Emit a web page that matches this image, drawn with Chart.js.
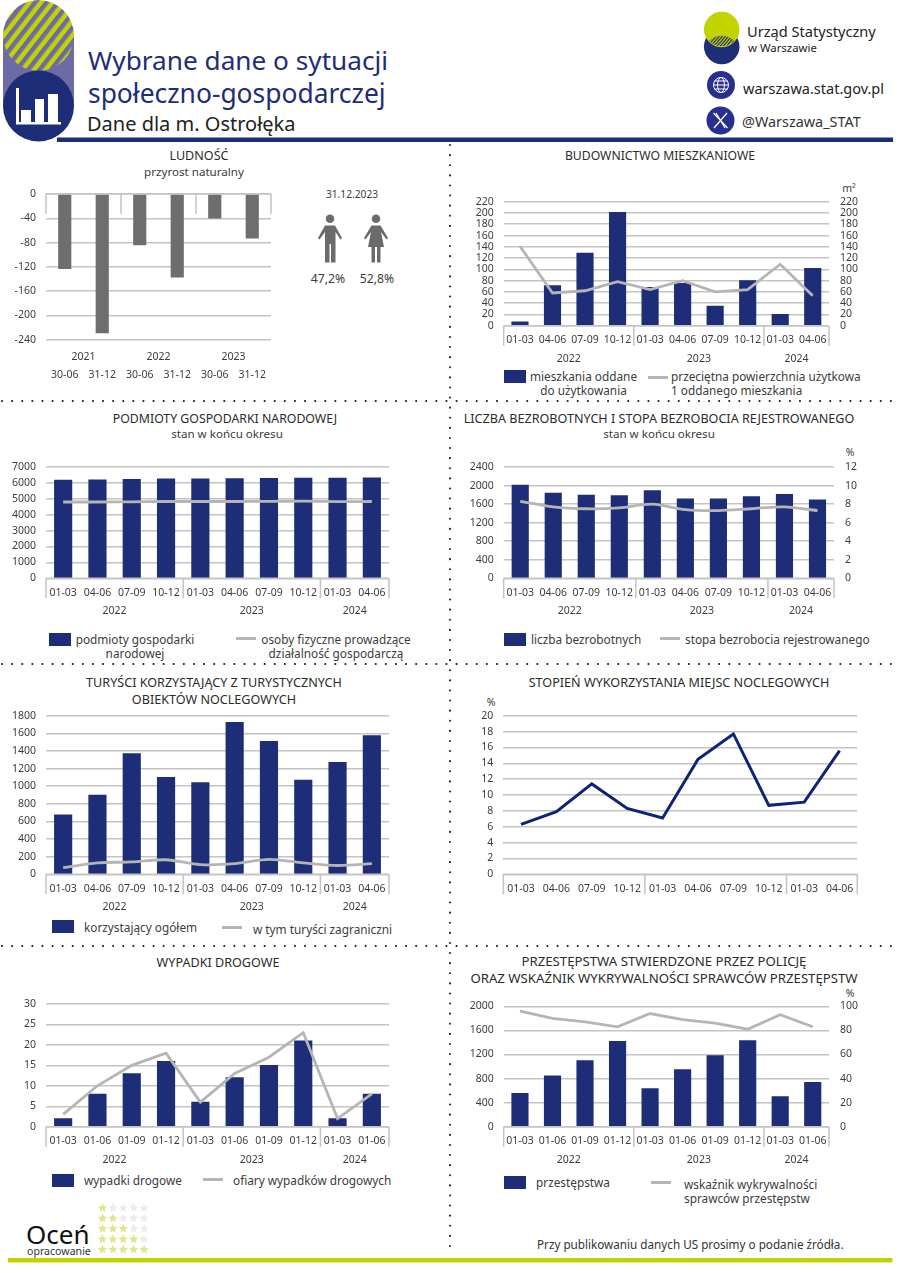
<!DOCTYPE html>
<html lang="pl">
<head>
<meta charset="utf-8">
<title>Wybrane dane o sytuacji społeczno-gospodarczej</title>
<script src="https://cdn.jsdelivr.net/npm/chart.js@4"></script>
<style>
  html, body { margin: 0; padding: 0; background: #fff; }
  body { position: relative; width: 900px; height: 1273px; overflow: hidden; font-family: "Noto Sans", sans-serif; color: #3c3c3c; }
  canvas { position: absolute; display: block; }
  svg.bg { position: absolute; left: 0; top: 0; }
  .t { position: absolute; white-space: nowrap; line-height: 1; transform: translateY(-50%); }
  .c { transform: translate(-50%, -50%); text-align: center; }
  .h { font-size: 12.6px; color: #2b2b2b; }
  .s { font-size: 11.6px; }
  .l { font-size: 11.8px; line-height: 14.4px; }
  .u { font-size: 10.5px; }
  .sw { position: absolute; width: 22px; height: 13px; background: #1e2d78; }
  .ln { position: absolute; width: 20px; height: 3px; background: #b5b5b5; }
</style>
</head>
<body>
<svg class="bg" width="900" height="1273" viewBox="0 0 900 1273">
  <defs>
    <pattern id="stripes" width="9" height="9" patternUnits="userSpaceOnUse" patternTransform="rotate(38)">
      <rect width="9" height="9" fill="#c3d300"/>
      <rect width="4.5" height="9" fill="#6d6ba6"/>
    </pattern>
    <pattern id="fine" width="2.4" height="2.4" patternUnits="userSpaceOnUse" patternTransform="rotate(40)">
      <rect width="2.4" height="2.4" fill="#c3d300"/>
      <rect width="1.2" height="2.4" fill="#1e2d78"/>
    </pattern>
  </defs>
  <!-- header capsule -->
  <rect x="3" y="35" width="71" height="72" fill="#6d6ba6"/>
  <circle cx="38.5" cy="35.5" r="35.5" fill="url(#stripes)"/>
  <circle cx="38.5" cy="106" r="35.5" fill="#1e2d78"/>
  <g fill="#fff">
    <rect x="16" y="88" width="3" height="36"/>
    <rect x="16" y="122" width="45" height="2.5"/>
    <rect x="21" y="110" width="10" height="12"/>
    <rect x="35" y="99" width="9" height="23"/>
    <rect x="48" y="94" width="10" height="28"/>
  </g>
  <rect x="57" y="137.5" width="836" height="4.5" fill="#1e2d78"/>
  <rect x="8" y="1258" width="884.5" height="4.5" fill="#c3d300"/>
  <!-- logo -->
  <circle cx="721.7" cy="46.5" r="17.8" fill="#1e2d78"/>
  <circle cx="721.7" cy="29.5" r="17.8" fill="#c3d300"/>
  <path d="M709 41 A18 18 0 0 1 734.5 41 A18 18 0 0 1 709 41 Z" fill="url(#fine)"/>
  <!-- contact icons -->
  <circle cx="721" cy="85" r="14" fill="#27308f"/>
  <g fill="none" stroke="#fff" stroke-width="1">
    <circle cx="721" cy="85" r="7.5"/>
    <ellipse cx="721" cy="85" rx="3.4" ry="7.5"/>
    <path d="M713.5 85 H728.5 M714.6 81 H727.4 M714.6 89 H727.4"/>
  </g>
  <circle cx="720.5" cy="120.5" r="14" fill="#27308f"/>
  <path d="M713.5 113 L727.5 128 M727 113 L714 128 M716 113 L725 128" fill="none" stroke="#fff" stroke-width="1.2"/>
  <!-- separators -->
  <g fill="none" stroke="#1a1a1a" stroke-width="2" stroke-linecap="round" stroke-dasharray="0.1 10">
    <path d="M450 145 V1256"/>
    <path d="M2 401 H900"/>
    <path d="M2 664 H900"/>
    <path d="M2 946 H900"/>
  </g>
  <!-- people -->
  <g fill="#6b6b6b">
    <circle cx="330" cy="218.7" r="4.3"/>
    <path d="M325 225.5 H335 L342 238 L340.5 239.5 L335.5 232 V262.5 H331 V244 H329.5 V262.5 H325 V232 L319.5 239.5 L318 238 Z"/>
    <circle cx="376" cy="218.7" r="4.3"/>
    <path d="M371.5 225.5 H380.5 L388 238 L386.5 239.5 L381 232 L384 247 H380.5 V262.5 H377 V247 H375 V262.5 H371.5 V247 H368 L371 232 L365.5 239.5 L364 238 Z"/>
  </g>
  <g id="stars"></g>
</svg>

<!-- header text -->
<div class="t" style="left:88px;top:60px;font-size:26.2px;color:#1e2d78">Wybrane dane o sytuacji</div>
<div class="t" style="left:88px;top:93px;font-size:26.4px;color:#1e2d78">społeczno-gospodarczej</div>
<div class="t" style="left:87px;top:124px;font-size:20px;color:#222">Dane dla m. Ostrołęka</div>
<div class="t" style="left:747px;top:31px;font-size:14.6px;color:#222">Urząd Statystyczny</div>
<div class="t" style="left:748px;top:48px;font-size:11.4px;color:#222">w Warszawie</div>
<div class="t" style="left:743px;top:87.5px;font-size:14.5px;color:#222">warszawa.stat.gov.pl</div>
<div class="t" style="left:742px;top:121.5px;font-size:14.4px;color:#333">@Warszawa_STAT</div>

<!-- panel titles -->
<div class="t c h" style="left:199px;top:156px">LUDNOŚĆ</div>
<div class="t c s" style="left:194px;top:172px">przyrost naturalny</div>
<div class="t c" style="left:352px;top:194px;font-size:10.2px">31.12.2023</div>
<div class="t c" style="left:328px;top:279px;font-size:12.2px">47,2%</div>
<div class="t c" style="left:377px;top:279px;font-size:12.2px">52,8%</div>

<div class="t c h" style="left:660px;top:156px;font-size:12.2px">BUDOWNICTWO MIESZKANIOWE</div>
<div class="t c h" style="left:225px;top:418.5px;font-size:12.3px">PODMIOTY GOSPODARKI NARODOWEJ</div>
<div class="t c s" style="left:227px;top:434px">stan w końcu okresu</div>
<div class="t c h" style="left:659px;top:418.5px">LICZBA BEZROBOTNYCH I STOPA BEZROBOCIA REJESTROWANEGO</div>
<div class="t c s" style="left:659px;top:434px">stan w końcu okresu</div>
<div class="t c h" style="left:214px;top:682.5px">TURYŚCI KORZYSTAJĄCY Z TURYSTYCZNYCH</div>
<div class="t c h" style="left:214px;top:699.5px">OBIEKTÓW NOCLEGOWYCH</div>
<div class="t c h" style="left:679px;top:682.5px">STOPIEŃ WYKORZYSTANIA MIEJSC NOCLEGOWYCH</div>
<div class="t c h" style="left:218px;top:963px">WYPADKI DROGOWE</div>
<div class="t c h" style="left:664px;top:962px;font-size:13.2px">PRZESTĘPSTWA STWIERDZONE PRZEZ POLICJĘ</div>
<div class="t c h" style="left:664px;top:978.5px;font-size:13.2px">ORAZ WSKAŹNIK WYKRYWALNOŚCI SPRAWCÓW PRZESTĘPSTW</div>

<!-- units -->
<div class="t c u" style="left:849px;top:188px">m²</div>
<div class="t c u" style="left:850px;top:452px">%</div>
<div class="t c u" style="left:491px;top:702px">%</div>
<div class="t c u" style="left:850px;top:993px">%</div>

<!-- legends -->
<div class="sw" style="left:504px;top:370px"></div>
<div class="t c l" style="left:583.5px;top:383px">mieszkania oddane<br>do użytkowania</div>
<div class="ln" style="left:648px;top:376px"></div>
<div class="t l" style="left:671px;top:383px">przeciętna powierzchnia użytkowa<br>1 oddanego mieszkania</div>

<div class="sw" style="left:49px;top:633px"></div>
<div class="t c l" style="left:135px;top:646px">podmioty gospodarki<br>narodowej</div>
<div class="ln" style="left:236px;top:637px"></div>
<div class="t c l" style="left:336px;top:646px">osoby fizyczne prowadzące<br>działalność gospodarczą</div>

<div class="sw" style="left:504px;top:632.5px"></div>
<div class="t l" style="left:531px;top:639px">liczba bezrobotnych</div>
<div class="ln" style="left:660px;top:637px"></div>
<div class="t l" style="left:685px;top:638.5px">stopa bezrobocia rejestrowanego</div>

<div class="sw" style="left:52px;top:920px"></div>
<div class="t l" style="left:84px;top:927px">korzystający ogółem</div>
<div class="ln" style="left:222px;top:926px"></div>
<div class="t l" style="left:253px;top:928.5px">w tym turyści zagraniczni</div>

<div class="sw" style="left:52px;top:1174px"></div>
<div class="t l" style="left:84px;top:1179.5px">wypadki drogowe</div>
<div class="ln" style="left:203px;top:1178px"></div>
<div class="t l" style="left:233px;top:1179.5px">ofiary wypadków drogowych</div>

<div class="sw" style="left:504px;top:1176px"></div>
<div class="t l" style="left:536px;top:1182px">przestępstwa</div>
<div class="ln" style="left:651px;top:1181px"></div>
<div class="t l" style="left:684px;top:1191px">wskaźnik wykrywalności<br>sprawców przestępstw</div>

<!-- footer -->
<div class="t" style="left:26px;top:1234px;font-size:26px;color:#111">Oceń</div>
<div class="t" style="left:27px;top:1251px;font-size:10.6px;color:#333">opracowanie</div>
<div class="t" style="left:537px;top:1245px;font-size:11.7px;color:#333">Przy publikowaniu danych US prosimy o podanie źródła.</div>

<script>
// ---- data ----
const periodsA = ["30-06", "31-12", "30-06", "31-12", "30-06", "31-12"];
const yearsA = ["2021", "2022", "2023"];
const groupsA = [2, 2, 2];
const naturalGrowth = [-123, -229, -84, -137, -40, -73];

const quarters = ["01-03", "04-06", "07-09", "10-12", "01-03", "04-06", "07-09", "10-12", "01-03", "04-06"];
const cumulative = ["01-03", "01-06", "01-09", "01-12", "01-03", "01-06", "01-09", "01-12", "01-03", "01-06"];
const yearsB = ["2022", "2023", "2024"];
const groupsB = [4, 4, 2];

const dwellings = [7, 71, 129, 201, 68, 75, 35, 80, 20, 102];
const avgFloorArea = [141, 58, 62, 78, 64, 80, 60, 64, 109, 53];

const entities = [6180, 6200, 6230, 6250, 6250, 6270, 6290, 6310, 6310, 6320];
const selfEmployed = [4800, 4800, 4810, 4830, 4830, 4830, 4840, 4850, 4820, 4830];

const unemployed = [2010, 1835, 1795, 1785, 1890, 1715, 1715, 1760, 1810, 1690];
const unemploymentRate = [8.3, 7.7, 7.5, 7.6, 8.0, 7.4, 7.3, 7.5, 7.7, 7.3];

const tourists = [675, 900, 1370, 1100, 1040, 1725, 1510, 1070, 1270, 1575];
const foreignTourists = [75, 130, 140, 165, 110, 120, 170, 130, 100, 120];

const occupancy = [6.3, 7.9, 11.4, 8.3, 7.1, 14.5, 17.7, 8.7, 9.1, 15.6];

const accidents = [2, 8, 13, 16, 6, 12, 15, 21, 2, 8];
const victims = [3, 10, 15, 18, 6, 13, 17, 23, 2, 8];

const crimes = [555, 845, 1100, 1420, 635, 950, 1180, 1430, 500, 735];
const detection = [96, 90, 87, 83, 94, 89, 86, 81, 93, 83];

const NAVY = "#1e2d78";
const GREY_BAR = "#6e6e6e";
const GREY_LINE = "#b5b5b5";
const GRID = "#c4c4c4";
const TEXT = "#3c3c3c";
const FONT = { family: '"Noto Sans", sans-serif', size: 10.5 };

// separators under the axis and the year labels, taken from the x scale
const groupAxis = {
  id: "groupAxis",
  afterDraw(chart, args, opts) {
    const x = chart.scales.x, y = chart.scales.y, ctx = chart.ctx;
    const base = y.getPixelForValue(0);
    const half = (x.getPixelForValue(1) - x.getPixelForValue(0)) / 2;
    ctx.save();
    ctx.strokeStyle = GRID;
    ctx.lineWidth = 1.5;
    ctx.beginPath();
    ctx.moveTo(x.left, base);
    ctx.lineTo(x.right, base);
    let idx = 0;
    const edges = [x.left];
    opts.sizes.forEach(function (n) {
      idx += n;
      edges.push(x.getPixelForValue(idx - 1) + half);
    });
    edges.forEach(function (e) {
      ctx.moveTo(e, base);
      ctx.lineTo(e, base + 20);
    });
    ctx.stroke();
    ctx.fillStyle = TEXT;
    ctx.font = FONT.size + "px " + FONT.family;
    ctx.textAlign = "center";
    ctx.textBaseline = "middle";
    (opts.years || []).forEach(function (yr, i) {
      ctx.fillText(yr, (edges[i] + edges[i + 1]) / 2, y.bottom + opts.yearOffset);
    });
    ctx.restore();
  }
};

// scale padding for half-labels would shrink the plot area, so it is dropped
function dropPadding(s) {
  s.paddingTop = 0;
  s.paddingBottom = 0;
  s.paddingLeft = 0;
  s.paddingRight = 0;
}

// plot = [left, top, right, bottom] of the plot area on the page
function draw(plot, o) {
  const ml = 46, mr = o.y1 ? 40 : 12, mt = 8, mb = 46;
  const canvas = document.createElement("canvas");
  const cl = Math.floor(plot[0]) - ml, ct = Math.floor(plot[1]) - mt;
  const w = Math.ceil(plot[2] - cl) + mr, h = Math.ceil(plot[3] - ct) + mb;
  canvas.width = w;
  canvas.height = h;
  canvas.style.left = cl + "px";
  canvas.style.top = ct + "px";
  document.body.appendChild(canvas);

  const tickCfg = function (a) {
    return {
      display: true,
      position: a.position,
      min: a.min,
      max: a.max,
      grid: { display: a.position === "left", color: GRID, lineWidth: 1.5, drawTicks: false },
      border: { display: false },
      ticks: {
        stepSize: a.step, color: TEXT, font: FONT, autoSkip: false,
        padding: a.position === "left" ? 10 : 11,
        callback: function (v) { return String(v); }
      }
    };
  };

  const scales = {
    x: {
      offset: true,
      grid: { display: false, drawTicks: false },
      border: { display: false },
      ticks: {
        color: TEXT, font: FONT, padding: o.labelPad || 8,
        maxRotation: 0, minRotation: 0, autoSkip: false
      },
      afterFit: function (s) { s.height = h - (plot[3] - ct); dropPadding(s); }
    },
    y: Object.assign(tickCfg({ position: "left", min: o.y.min, max: o.y.max, step: o.y.step }), {
      afterFit: function (s) { s.width = plot[0] - cl; dropPadding(s); }
    })
  };
  if (o.y1) {
    scales.y1 = Object.assign(tickCfg({ position: "right", min: o.y1.min, max: o.y1.max, step: o.y1.step }), {
      afterFit: function (s) { s.width = w - (plot[2] - cl); dropPadding(s); }
    });
  }

  const datasets = [];
  if (o.bars) {
    datasets.push({
      type: "bar", data: o.bars, yAxisID: "y", order: 2,
      backgroundColor: o.barColor || NAVY, barThickness: o.barWidth
    });
  }
  if (o.line) {
    datasets.push({
      type: "line", data: o.line, yAxisID: o.y1 ? "y1" : "y", order: 1,
      borderColor: o.lineColor || GREY_LINE, borderWidth: o.lineWidth || 2.8,
      pointRadius: 0, tension: o.tension || 0, borderJoinStyle: "miter", fill: false
    });
  }

  new Chart(canvas.getContext("2d"), {
    data: { labels: o.labels, datasets: datasets },
    plugins: [groupAxis],
    options: {
      responsive: false,
      animation: false,
      layout: {
        autoPadding: false,
        padding: { top: plot[1] - ct, right: o.y1 ? 0 : w - (plot[2] - cl), left: 0, bottom: 0 }
      },
      plugins: {
        legend: { display: false },
        tooltip: { enabled: false },
        groupAxis: { sizes: o.sizes, years: o.years, yearOffset: o.yearOffset || 33 }
      },
      scales: scales
    }
  });
}

draw([46, 194, 271, 339.6], {
  labels: periodsA, bars: naturalGrowth, barColor: GREY_BAR, barWidth: 12.5,
  sizes: groupsA, years: yearsA, yearOffset: 17.5, labelPad: 29,
  y: { min: -240, max: 0, step: 40 }
});
draw([503.7, 201.7, 829, 325.7], {
  labels: quarters, bars: dwellings, line: avgFloorArea, barWidth: 16.5,
  sizes: groupsB, years: yearsB,
  y: { min: 0, max: 220, step: 20 }, y1: { min: 0, max: 220, step: 20 }
});
draw([46, 467, 389, 578.3], {
  labels: quarters, bars: entities, line: selfEmployed, barWidth: 17.5, tension: 0.3,
  sizes: groupsB, years: yearsB,
  y: { min: 0, max: 7000, step: 1000 }
});
draw([503.7, 467, 834, 578.3], {
  labels: quarters, bars: unemployed, line: unemploymentRate, barWidth: 16.5, tension: 0.3,
  sizes: groupsB, years: yearsB,
  y: { min: 0, max: 2400, step: 400 }, y1: { min: 0, max: 12, step: 2 }
});
draw([46, 715.7, 389, 874.3], {
  labels: quarters, bars: tourists, line: foreignTourists, barWidth: 17.5, tension: 0.3,
  sizes: groupsB, years: yearsB,
  y: { min: 0, max: 1800, step: 200 }
});
draw([503.3, 715.7, 857.3, 874.3], {
  labels: quarters, line: occupancy, lineColor: "#0c2577", lineWidth: 3,
  sizes: groupsB,
  y: { min: 0, max: 20, step: 2 }
});
draw([46, 1004, 389, 1126.7], {
  labels: cumulative, bars: accidents, line: victims, barWidth: 17.5,
  sizes: groupsB, years: yearsB,
  y: { min: 0, max: 30, step: 5 }
});
draw([503.7, 1006.3, 829, 1126.7], {
  labels: cumulative, bars: crimes, line: detection, barWidth: 16.5,
  sizes: groupsB, years: yearsB,
  y: { min: 0, max: 2000, step: 400 }, y1: { min: 0, max: 100, step: 20 }
});

// rating stars
const starGroup = document.getElementById("stars");
for (let row = 0; row < 5; row++) {
  for (let col = 0; col < 5; col++) {
    const cx = 102.5 + col * 10.4, cy = 1208 + row * 10.4;
    let pts = "";
    for (let k = 0; k < 10; k++) {
      const r = k % 2 ? 2.2 : 5;
      const a = -Math.PI / 2 + k * Math.PI / 5;
      pts += (cx + r * Math.cos(a)).toFixed(1) + "," + (cy + r * Math.sin(a)).toFixed(1) + " ";
    }
    const p = document.createElementNS("http://www.w3.org/2000/svg", "polygon");
    p.setAttribute("points", pts);
    p.setAttribute("fill", col <= row ? "#dfe68c" : "#ececec");
    starGroup.appendChild(p);
  }
}
</script>
</body>
</html>
